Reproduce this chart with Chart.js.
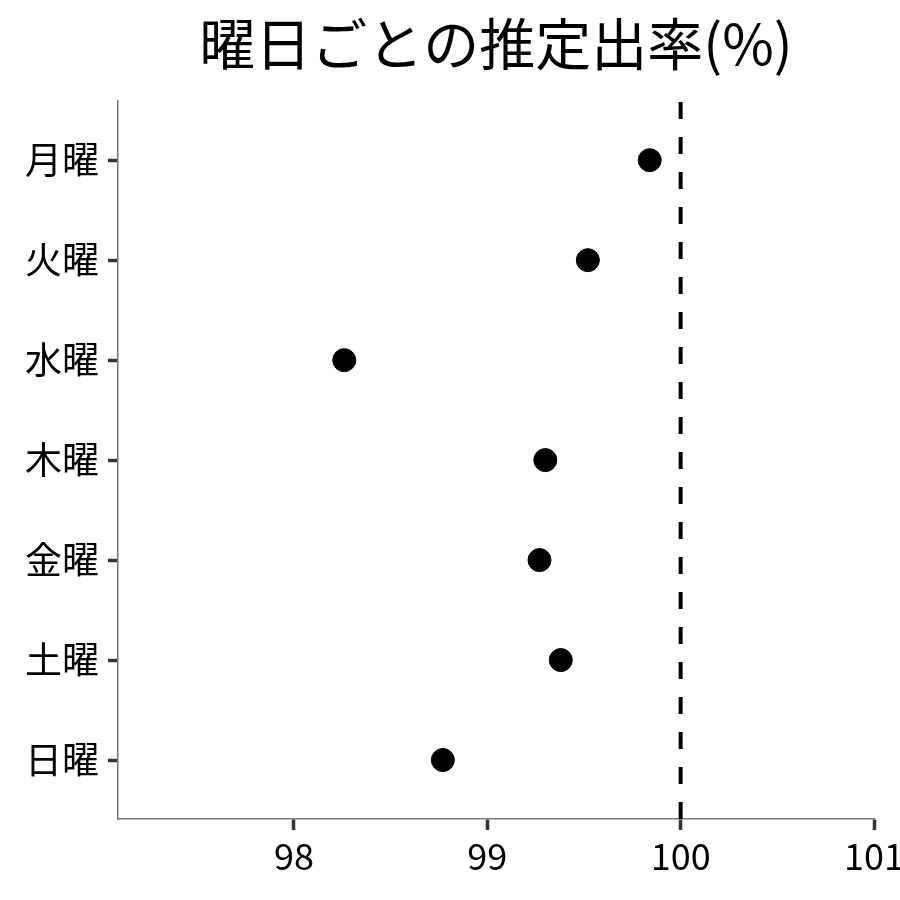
<!DOCTYPE html>
<html>
<head>
<meta charset="utf-8">
<script src="https://cdn.jsdelivr.net/npm/chart.js@4"></script>
<style>
  html, body { margin: 0; padding: 0; background: #fff; }
  #wrap { width: 900px; height: 900px; }
</style>
</head>
<body>
<div id="wrap"><canvas id="rate-chart" width="900" height="900"></canvas></div>
<script>
// 曜日ごとの推定出率 - dot plot

const DAYS = ['月曜', '火曜', '水曜', '木曜', '金曜', '土曜', '日曜'];
const RATES = [99.84, 99.52, 98.26, 99.30, 99.27, 99.38, 98.77];
const X_TICKS = [98, 99, 100, 101];
const REF_LINE = 100;

const FONT = '"Noto Sans CJK JP", "Noto Sans", sans-serif';

const points = DAYS.map((d, i) => ({ x: RATES[i], y: i }));
const yMin = -0.59;
const yMax = DAYS.length - 1 + 0.59;

const ctx = document.getElementById('rate-chart').getContext('2d');
const chart = new Chart(ctx, {
  type: 'scatter',
  data: {
    datasets: [
      {
        data: points,
        backgroundColor: '#000',
        borderColor: '#000',
        pointRadius: 11.5,
        pointHoverRadius: 11.5,
        showLine: false,
        order: 2,
      },
      {
        // reference line at 100
        data: [{ x: REF_LINE, y: yMax }, { x: REF_LINE, y: yMin }],
        showLine: true,
        borderColor: '#000',
        borderWidth: 4,
        borderDash: [17, 18],
        pointRadius: 0,
        fill: false,
        order: 1,
      },
    ],
  },
  options: {
    responsive: false,
    animation: false,
    layout: { padding: { left: 0, right: 26, top: 0, bottom: 0 } },
    plugins: {
      legend: { display: false },
      tooltip: { enabled: false },
      title: {
        display: true,
        text: '曜日ごとの推定出率(%)',
        color: '#000',
        fullSize: false,
        font: { family: FONT, size: 56, weight: 'normal' },
        padding: { top: 10, bottom: 24 },
      },
    },
    scales: {
      x: {
        type: 'linear',
        min: 97.09,
        max: 101,
        afterBuildTicks: (scale) => { scale.ticks = X_TICKS.map(v => ({ value: v })); },
        afterFit: (scale) => {
          scale.height = 81;
          scale.paddingRight = 0;
          scale.paddingLeft = 0;
        },
        border: { display: true, color: '#777', width: 1.5 },
        grid: { drawOnChartArea: false, tickLength: 11, tickWidth: 3.5, tickColor: '#333' },
        ticks: {
          color: '#000',
          padding: 5,
          maxRotation: 0,
          font: { family: FONT, size: 36 },
          callback: (v) => String(v),
        },
      },
      y: {
        type: 'linear',
        reverse: true,
        min: yMin,
        max: yMax,
        afterBuildTicks: (scale) => { scale.ticks = DAYS.map((d, i) => ({ value: i })); },
        afterFit: (scale) => { scale.width = 118; },
        border: { display: true, color: '#777', width: 1.5 },
        grid: { drawOnChartArea: false, tickLength: 10, tickWidth: 3.5, tickColor: '#333' },
        ticks: {
          color: '#000',
          padding: 9,
          font: { family: FONT, size: 37 },
          callback: (v) => DAYS[v] ?? '',
        },
      },
    },
  },
});
</script>
</body>
</html>
